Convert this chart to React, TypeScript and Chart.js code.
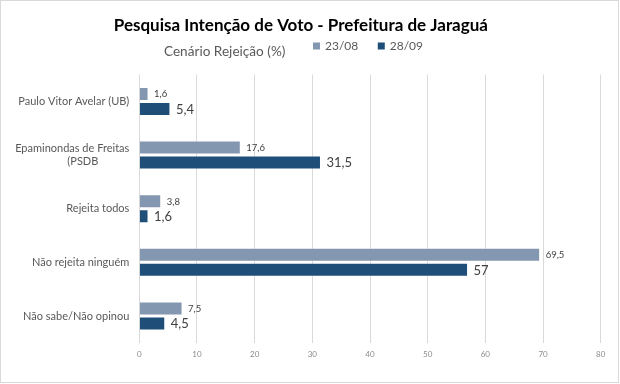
import React, { useEffect, useRef } from "react";
import { Chart, registerables } from "chart.js";

Chart.register(...registerables);

const chartTitle = "Pesquisa Intenção de Voto - Prefeitura de Jaraguá";
const chartSubtitle = "Cenário Rejeição (%)";
const categories: (string | string[])[] = [
  "Paulo Vitor Avelar (UB)",
  ["Epaminondas de Freitas", "(PSDB"],
  "Rejeita todos",
  "Não rejeita ninguém",
  "Não sabe/Não opinou",
];
const seriesLabels = ["23/08", "28/09"];
const values2308 = [1.6, 17.6, 3.8, 69.5, 7.5];
const values2809 = [5.4, 31.5, 1.6, 57, 4.5];
const seriesColors = ["#8497B0", "#1F4E79"];
const xMin = 0;
const xMax = 80;
const xStep = 10;

const FONT = "Lato";
const Y_FONT_SIZE = 11;

const fmt = (v: number) => String(v).replace(".", ",");

// Multi-line labels: centre each line relative to the widest line (right-aligned block)
function centeredLines(lines: string[]): string[] {
  const c = document.createElement("canvas").getContext("2d");
  if (!c) return lines;
  c.font = `${Y_FONT_SIZE}px ${FONT}`;
  const widths = lines.map((l) => c.measureText(l).width);
  const maxW = Math.max(...widths);
  const sp = c.measureText(" ").width || 3;
  return lines.map((l, i) => {
    const n = Math.round(((maxW - widths[i]) / 2 / sp) * 0.77);
    return l + " ".repeat(n);
  });
}

const valueLabelsPlugin = {
  id: "valueLabels",
  afterDatasetsDraw(chart: any) {
    const ctx = chart.ctx;
    chart.data.datasets.forEach((ds: any, di: number) => {
      const meta = chart.getDatasetMeta(di);
      const size = di === 0 ? 9.5 : 13;
      ctx.save();
      ctx.font = `${size}px ${FONT}`;
      ctx.fillStyle = "#404040";
      ctx.textBaseline = "middle";
      ctx.textAlign = "left";
      meta.data.forEach((bar: any, i: number) => {
        ctx.fillText(fmt(ds.data[i]), bar.x + 5.5, bar.y + 0.5);
      });
      ctx.restore();
    });
  },
};

const headerPlugin = {
  id: "headerRow",
  afterDraw(chart: any) {
    const ctx = chart.ctx;
    ctx.save();
    ctx.font = `13.6px ${FONT}`;
    ctx.fillStyle = "#595959";
    ctx.textAlign = "left";
    ctx.textBaseline = "alphabetic";
    ctx.fillText(chartSubtitle, 163, 54.5);

    ctx.font = `12px ${FONT}`;
    let x = 312;
    chart.data.datasets.forEach((ds: any) => {
      ctx.fillStyle = ds.backgroundColor;
      ctx.fillRect(x, 41.5, 7, 7);
      ctx.fillStyle = "#595959";
      ctx.fillText(ds.label, x + 12, 49);
      x += 12 + ctx.measureText(ds.label).width + 19.5;
    });
    ctx.restore();
  },
};

export default function App() {
  const canvasRef = useRef<HTMLCanvasElement | null>(null);

  useEffect(() => {
    if (!canvasRef.current) return;
    const chart = new Chart(canvasRef.current, {
      type: "bar",
      data: {
        labels: categories,
        datasets: [
          {
            label: seriesLabels[0],
            data: values2308,
            backgroundColor: seriesColors[0],
            borderColor: "rgba(255,255,255,0.35)",
            borderWidth: 1,
            categoryPercentage: 0.56,
            barPercentage: 0.93,
          },
          {
            label: seriesLabels[1],
            data: values2809,
            backgroundColor: seriesColors[1],
            borderColor: "rgba(255,255,255,0.3)",
            borderWidth: 1,
            categoryPercentage: 0.56,
            barPercentage: 0.93,
          },
        ],
      },
      options: {
        indexAxis: "y",
        animation: false,
        responsive: true,
        maintainAspectRatio: false,
        layout: { padding: { left: 0, right: 17.3, top: 0, bottom: 15.2 } },
        plugins: {
          legend: { display: false },
          tooltip: { enabled: false },
          title: {
            display: true,
            text: chartTitle,
            color: "#000000",
            font: { family: FONT, size: 17, weight: "bold", lineHeight: 1.2 },
            padding: { top: 14.8, bottom: 38.4 },
          },
        },
        scales: {
          x: {
            min: xMin,
            max: xMax,
            ticks: {
              stepSize: xStep,
              color: "#8c8c8c",
              font: { family: FONT, size: 8, lineHeight: 1.2 },
              padding: 7.2,
            },
            grid: { color: "#d9d9d9", lineWidth: 1, drawTicks: false },
            border: { display: false },
          },
          y: {
            ticks: {
              color: "#595959",
              font: { family: FONT, size: Y_FONT_SIZE, lineHeight: 1.15 },
              padding: 10,
              crossAlign: "near",
              callback: function (this: any, value: any, index: number) {
                const lbl = categories[index];
                if (Array.isArray(lbl)) return centeredLines(lbl);
                return lbl;
              },
            },
            grid: { display: false, drawTicks: false },
            border: { display: false },
            afterFit: (scale: any) => {
              scale.width = 138.3;
            },
          },
        },
      },
      plugins: [valueLabelsPlugin, headerPlugin],
    });
    return () => chart.destroy();
  }, []);

  return (
    <div
      style={{
        position: "fixed",
        left: 0,
        top: 0,
        width: 619,
        height: 383,
        border: "1px solid #d9d9d9",
        boxSizing: "border-box",
        background: "#ffffff",
      }}
    >
      <div style={{ position: "relative", width: "100%", height: "100%" }}>
        <canvas ref={canvasRef} />
      </div>
    </div>
  );
}
